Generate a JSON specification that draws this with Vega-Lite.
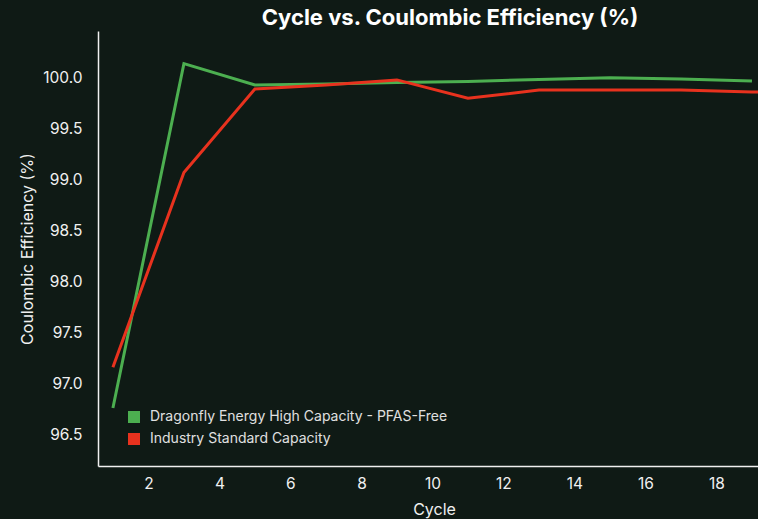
{
  "$schema": "https://vega.github.io/schema/vega-lite/v6.json",
  "autosize": {"type": "none"},
  "padding": {"left": 98, "top": 31, "right": 0, "bottom": 53},
  "width": 660,
  "height": 435,
  "background": "#0f1a15",
  "title": {
    "text": "Cycle vs. Coulombic Efficiency (%)",
    "fontSize": 22,
    "fontWeight": "bold",
    "font": "Inter",
    "color": "#ffffff",
    "anchor": "middle",
    "dx": 22,
    "offset": 1
  },
  "config": {
    "view": {"stroke": null},
    "font": "Inter",
    "axis": {
      "domainColor": "#f0f0f0",
      "domainWidth": 1.5,
      "grid": false,
      "ticks": false,
      "tickSize": 0,
      "labelColor": "#f0f0f0",
      "labelFontSize": 15.5,
      "labelFont": "Inter",
      "titleColor": "#f0f0f0",
      "titleFontSize": 16,
      "titleFont": "Inter",
      "titleFontWeight": "normal"
    }
  },
  "data": {
    "values": [
      {"cycle": 1, "value": 96.76, "series": "Dragonfly Energy High Capacity - PFAS-Free"},
      {"cycle": 3, "value": 100.14, "series": "Dragonfly Energy High Capacity - PFAS-Free"},
      {"cycle": 5, "value": 99.93, "series": "Dragonfly Energy High Capacity - PFAS-Free"},
      {"cycle": 7, "value": 99.94, "series": "Dragonfly Energy High Capacity - PFAS-Free"},
      {"cycle": 9, "value": 99.955, "series": "Dragonfly Energy High Capacity - PFAS-Free"},
      {"cycle": 11, "value": 99.965, "series": "Dragonfly Energy High Capacity - PFAS-Free"},
      {"cycle": 13, "value": 99.985, "series": "Dragonfly Energy High Capacity - PFAS-Free"},
      {"cycle": 15, "value": 100.0, "series": "Dragonfly Energy High Capacity - PFAS-Free"},
      {"cycle": 17, "value": 99.99, "series": "Dragonfly Energy High Capacity - PFAS-Free"},
      {"cycle": 19, "value": 99.97, "series": "Dragonfly Energy High Capacity - PFAS-Free"},
      {"cycle": 1, "value": 97.16, "series": "Industry Standard Capacity"},
      {"cycle": 3, "value": 99.07, "series": "Industry Standard Capacity"},
      {"cycle": 5, "value": 99.89, "series": "Industry Standard Capacity"},
      {"cycle": 7, "value": 99.93, "series": "Industry Standard Capacity"},
      {"cycle": 9, "value": 99.98, "series": "Industry Standard Capacity"},
      {"cycle": 11, "value": 99.8, "series": "Industry Standard Capacity"},
      {"cycle": 13, "value": 99.88, "series": "Industry Standard Capacity"},
      {"cycle": 15, "value": 99.88, "series": "Industry Standard Capacity"},
      {"cycle": 17, "value": 99.88, "series": "Industry Standard Capacity"},
      {"cycle": 19, "value": 99.86, "series": "Industry Standard Capacity"},
      {"cycle": 20, "value": 99.86, "series": "Industry Standard Capacity"}
    ]
  },
  "mark": {"type": "line", "strokeWidth": 3, "clip": true},
  "encoding": {
    "x": {
      "field": "cycle",
      "type": "quantitative",
      "scale": {"domain": [0.58, 19.17], "nice": false, "zero": false},
      "axis": {
        "title": "Cycle",
        "values": [2, 4, 6, 8, 10, 12, 14, 16, 18],
        "labelPadding": 10,
        "titleX": 336,
        "titleY": 43,
        "titleBaseline": "middle"
      }
    },
    "y": {
      "field": "value",
      "type": "quantitative",
      "scale": {"domain": [96.19, 100.46], "nice": false, "zero": false},
      "axis": {
        "title": "Coulombic Efficiency (%)",
        "values": [96.5, 97.0, 97.5, 98.0, 98.5, 99.0, 99.5, 100.0],
        "format": ".1f",
        "labelPadding": 16,
        "titleX": -71,
        "titleBaseline": "middle"
      }
    },
    "color": {
      "field": "series",
      "type": "nominal",
      "scale": {
        "domain": ["Dragonfly Energy High Capacity - PFAS-Free", "Industry Standard Capacity"],
        "range": ["#4CAF50", "#E8321E"]
      },
      "legend": {
        "title": null,
        "orient": "none",
        "legendX": 29,
        "legendY": 379,
        "padding": 0,
        "symbolType": "square",
        "symbolSize": 36,
        "symbolStrokeWidth": 6,
        "labelColor": "#e0e0e0",
        "labelFontSize": 14,
        "labelFont": "Inter",
        "labelOffset": 9,
        "rowPadding": -10,
        "labelLimit": 400
      }
    }
  }
}
